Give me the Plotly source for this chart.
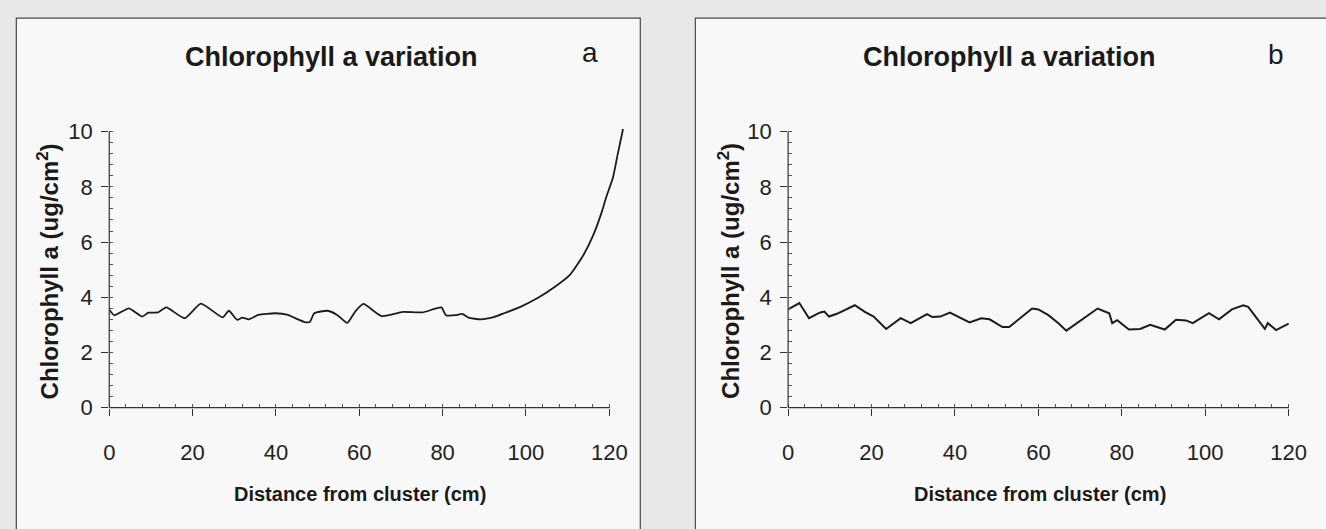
import plotly.graph_objects as go

# ---- data ----
dist_a = [0, 1.2, 4.7, 7.9, 9.4, 11.7, 13.7, 18.1, 22.0, 27.2,
          28.7, 30.7, 31.9, 33.5, 35.8, 39.8, 42.9, 44.5, 46.9, 48.1,
          49.2, 52.4, 54.7, 57.1, 59.1, 61.0, 63.4, 65.3, 67.3, 70.5,
          75.2, 79.7, 80.8, 83.2, 84.7, 86.2, 89.2, 92.2, 94.9, 98.8,
          102.8, 106.7, 110.6, 113.8, 116.1, 118.1, 119.3, 120.9, 122.0, 123.3]
chl_a = [3.55, 3.35, 3.6, 3.3, 3.44, 3.45, 3.63, 3.24, 3.77, 3.27,
         3.51, 3.18, 3.26, 3.2, 3.36, 3.42, 3.36, 3.25, 3.1, 3.1,
         3.42, 3.51, 3.36, 3.07, 3.5, 3.76, 3.51, 3.32, 3.36, 3.47,
         3.45, 3.63, 3.35, 3.35, 3.4, 3.26, 3.2, 3.28, 3.43, 3.66,
         3.97, 4.35, 4.82, 5.53, 6.23, 7.05, 7.64, 8.35, 9.17, 10.1]

dist_b = [0, 2.7, 5.0, 7.7, 8.7, 9.8, 11.7, 16.0, 18.4, 20.5,
          23.5, 26.1, 27.0, 29.4, 33.3, 34.6, 36.5, 38.8, 43.5, 46.3,
          48.3, 51.4, 53.0, 58.5, 60.0, 62.4, 64.8, 66.7, 69.5, 74.2,
          77.0, 77.7, 78.9, 81.7, 84.4, 86.8, 90.3, 93.0, 95.4, 97.0,
          100.9, 103.3, 106.4, 109.1, 110.3, 112.7, 114.3, 115.0, 117.0, 120.0]
chl_b = [3.56, 3.79, 3.24, 3.45, 3.48, 3.3, 3.4, 3.71, 3.47, 3.3,
         2.85, 3.15, 3.24, 3.06, 3.39, 3.28, 3.3, 3.44, 3.09, 3.24,
         3.2, 2.92, 2.92, 3.59, 3.56, 3.35, 3.06, 2.79, 3.1, 3.59,
         3.42, 3.06, 3.17, 2.83, 2.85, 3.0, 2.83, 3.18, 3.16, 3.06,
         3.42, 3.2, 3.56, 3.71, 3.65, 3.18, 2.85, 3.06, 2.81, 3.04]

x_ticks = [0, 20, 40, 60, 80, 100, 120]
y_ticks = [0, 2, 4, 6, 8, 10]
title_text = "Chlorophyll a variation"
panel_labels = ["a", "b"]
x_title = "Distance from cluster (cm)"
y_title = "Chlorophyll a (ug/cm<sup>2</sup>)"

# ---- layout geometry ----
W, H = 1326, 529
FONT = "Liberation Sans, Arial, Helvetica, sans-serif"
INK = "#1c1c1c"

xdom_a = [105 / W, 630 / W]
xdom_b = [795.3 / W, 1306.4 / W]
ydom = [(H - 417) / H, (H - 123.4) / H]
xr_a = [0, 123.9]
xr_b = [0, 120.5]
yr = [0, 10.3]

fig = go.Figure()
fig.add_trace(go.Scatter(x=dist_a, y=chl_a, mode="lines", xaxis="x", yaxis="y",
                         line=dict(color=INK, width=1.8, shape="spline", smoothing=0.5),
                         showlegend=False, hoverinfo="skip"))
fig.add_trace(go.Scatter(x=dist_b, y=chl_b, mode="lines", xaxis="x2", yaxis="y2",
                         line=dict(color=INK, width=2.0), showlegend=False,
                         hoverinfo="skip"))

def xaxis(dom, rng, anchor):
    return dict(domain=dom, range=rng, anchor=anchor, showgrid=False, zeroline=False,
                showline=False, tickmode="array", tickvals=x_ticks,
                ticks="outside", ticklen=7, tickwidth=1, tickcolor="#333",
                ticklabelstandoff=18,
                minor=dict(ticks="inside", dtick=4, tick0=0, ticklen=4,
                           tickwidth=1, tickcolor="#555", showgrid=False),
                tickfont=dict(family=FONT, size=22, color="#222"), fixedrange=True)

def yaxis(rng, anchor):
    return dict(domain=ydom, range=rng, anchor=anchor, showgrid=False, zeroline=False,
                showline=False, tickmode="array", tickvals=y_ticks,
                ticks="outside", ticklen=7, tickwidth=1, tickcolor="#333",
                ticklabelstandoff=4,
                minor=dict(ticks="inside", dtick=0.4, tick0=0, ticklen=4,
                           tickwidth=1, tickcolor="#555", showgrid=False),
                tickfont=dict(family=FONT, size=22, color="#222"), fixedrange=True)

shapes = [
    # panel frames
    dict(type="rect", xref="paper", yref="paper", x0=10.5 / W, x1=645 / W,
         y0=-0.05, y1=(H - 14.5) / H, line=dict(color="#4a4a4a", width=1.2),
         fillcolor="#f8f8f8", layer="below"),
    dict(type="rect", xref="paper", yref="paper", x0=701 / W, x1=1.02,
         y0=-0.05, y1=(H - 14.5) / H, line=dict(color="#4a4a4a", width=1.2),
         fillcolor="#f8f8f8", layer="below"),
    # axis lines (x from 0 to 120, y from 0 to 10)
    dict(type="line", xref="x", yref="paper", x0=0, x1=120, y0=ydom[0], y1=ydom[0],
         line=dict(color="#333", width=1.2)),
    dict(type="line", xref="paper", yref="y", x0=xdom_a[0], x1=xdom_a[0], y0=0, y1=10,
         line=dict(color="#333", width=1.2)),
    dict(type="line", xref="x2", yref="paper", x0=0, x1=120, y0=ydom[0], y1=ydom[0],
         line=dict(color="#333", width=1.2)),
    dict(type="line", xref="paper", yref="y2", x0=xdom_b[0], x1=xdom_b[0], y0=0, y1=10,
         line=dict(color="#333", width=1.2)),
]

def ann(text, x, y, size, bold=False, angle=0):
    return dict(text=f"<b>{text}</b>" if bold else text, x=x, y=y, xref="paper", yref="paper",
                showarrow=False, textangle=angle, xanchor="center", yanchor="middle",
                font=dict(family=FONT, size=size, color="#1a1a1a"))

annotations = [
    ann(title_text, 331 / W, (H - 55) / H, 27, bold=True),
    ann(title_text, 1020 / W, (H - 55) / H, 27, bold=True),
    ann(panel_labels[0], 594 / W, (H - 50) / H, 28),
    ann(panel_labels[1], 1291 / W, (H - 52) / H, 28),
    ann(x_title, 360 / W, (H - 506) / H, 20, bold=True),
    ann(x_title, 1051 / W, (H - 506) / H, 20, bold=True),
    ann(y_title, 43 / W, (H - 276) / H, 24, bold=True, angle=-90),
    ann(y_title, 735 / W, (H - 276) / H, 24, bold=True, angle=-90),
]

fig.update_layout(
    width=W, height=H, margin=dict(l=0, r=0, t=0, b=0),
    paper_bgcolor="#e8e8e8", plot_bgcolor="rgba(0,0,0,0)",
    xaxis=xaxis(xdom_a, xr_a, "y"), yaxis=yaxis(yr, "x"),
    xaxis2=xaxis(xdom_b, xr_b, "y2"), yaxis2=yaxis(yr, "x2"),
    shapes=shapes, annotations=annotations, showlegend=False,
)

fig.write_html(
    "out.html",
    config={"displayModeBar": False},
    post_script="document.body.style.margin='0';document.body.style.overflow='hidden';",
)
